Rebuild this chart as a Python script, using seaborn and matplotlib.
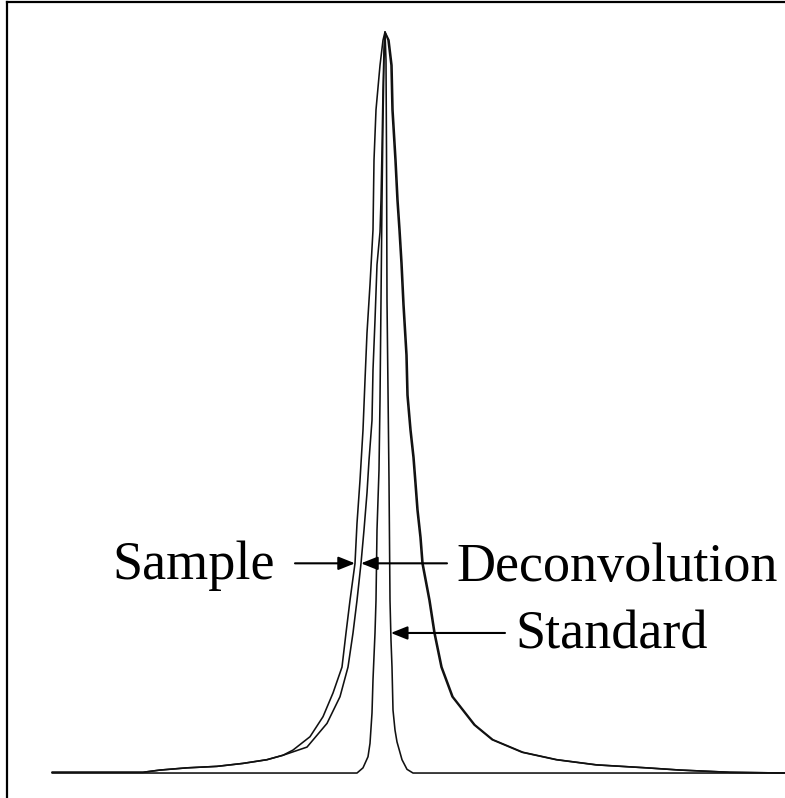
import numpy as np
import pandas as pd
import seaborn as sns
import matplotlib
matplotlib.use("Agg")
import matplotlib.pyplot as plt

# Normalised line profiles (energy offset from peak centre, relative intensity)
sample_x = [-3.33, -2.42, -2.25, -1.98, -1.68, -1.42, -1.18, -1.02, -0.92, -0.75,
            -0.62, -0.52, -0.43, -0.39, -0.35, -0.30, -0.28, -0.25, -0.22, -0.20,
            -0.18, -0.15, -0.12, -0.11, -0.09, -0.05, -0.02, 0.00]
sample_y = [0.001, 0.001, 0.004, 0.007, 0.009, 0.013, 0.018, 0.024, 0.031, 0.049,
            0.076, 0.108, 0.143, 0.189, 0.233, 0.283, 0.337, 0.395, 0.463, 0.530,
            0.594, 0.659, 0.733, 0.827, 0.895, 0.955, 0.989, 1.000]

decon_x = [-3.33, -2.42, -2.25, -1.98, -1.68, -1.42, -1.18, -1.02, -0.78, -0.58,
           -0.45, -0.37, -0.32, -0.28, -0.24, -0.21, -0.18, -0.16, -0.13, -0.12,
           -0.10, -0.08, -0.05, -0.04, -0.03, -0.02, -0.01, 0.00]
decon_y = [0.001, 0.001, 0.004, 0.007, 0.009, 0.013, 0.018, 0.024, 0.035, 0.067,
           0.103, 0.143, 0.189, 0.233, 0.283, 0.328, 0.378, 0.422, 0.476, 0.544,
           0.611, 0.686, 0.730, 0.773, 0.841, 0.922, 0.976, 1.000]

# High-energy side of the sample profile
tail_x = [0.04, 0.07, 0.08, 0.11, 0.13, 0.15, 0.17, 0.19, 0.22, 0.23, 0.26, 0.29,
          0.31, 0.33, 0.36, 0.38, 0.45, 0.50, 0.57, 0.68, 0.90, 1.08, 1.38, 1.72,
          2.12, 2.62, 2.95, 3.45, 4.00]
tail_y = [0.989, 0.955, 0.895, 0.827, 0.773, 0.733, 0.688, 0.632, 0.564, 0.510,
          0.463, 0.426, 0.391, 0.355, 0.318, 0.283, 0.233, 0.189, 0.143, 0.103,
          0.065, 0.045, 0.028, 0.018, 0.011, 0.007, 0.004, 0.001, 0.000]

# High-energy side of the deconvolved profile (runs just inside the sample)
decon_tail_x = [0.03, 0.06, 0.07, 0.10, 0.12, 0.14, 0.16, 0.18, 0.21, 0.22, 0.25,
                0.28, 0.30, 0.32, 0.35, 0.37, 0.44, 0.49, 0.56, 0.67, 0.89, 1.07,
                1.37, 1.71, 2.11, 2.61, 2.95, 3.45, 4.00]
decon_tail_y = [0.989, 0.955, 0.895, 0.827, 0.773, 0.733, 0.688, 0.632, 0.564,
                0.510, 0.463, 0.426, 0.391, 0.355, 0.318, 0.283, 0.233, 0.189,
                0.143, 0.103, 0.065, 0.045, 0.028, 0.018, 0.011, 0.007, 0.004,
                0.001, 0.000]

standard_x = [-3.33, -0.28, -0.22, -0.17, -0.15, -0.13, -0.12, -0.10, -0.09, -0.08,
              -0.06, -0.05, -0.04, -0.03, -0.02, -0.01, 0.00, 0.01, 0.015, 0.02,
              0.03, 0.04, 0.05, 0.06, 0.07, 0.08, 0.10, 0.12, 0.17, 0.22, 0.28, 4.00]
standard_y = [0.000, 0.000, 0.007, 0.022, 0.040, 0.081, 0.126, 0.189, 0.233, 0.328,
              0.409, 0.503, 0.638, 0.773, 0.881, 0.962, 1.000, 0.962, 0.841, 0.638,
              0.517, 0.395, 0.233, 0.179, 0.143, 0.085, 0.058, 0.042, 0.018, 0.005,
              0.000, 0.000]

labels = ["Sample", "Deconvolution", "Standard"]
label_levels = [0.283, 0.283, 0.189]

sns.set_style("white")
plt.rcParams["font.family"] = ["Liberation Serif", "DejaVu Serif"]

fig = plt.figure(figsize=(7.85, 7.98), dpi=100)
ax = fig.add_axes([7 / 785, 0.0, 778 / 785, 796 / 798])

profiles = {
    "Sample": (sample_x + tail_x, sample_y + tail_y),
    "Deconvolution": (decon_x + decon_tail_x, decon_y + decon_tail_y),
    "Standard": (standard_x, standard_y),
}
frames = [pd.DataFrame({"x": xs, "y": ys, "profile": name})
          for name, (xs, ys) in profiles.items()]
df = pd.concat(frames, ignore_index=True)

for name in ["Standard", "Deconvolution", "Sample"]:
    sub = df[df["profile"] == name]
    sns.lineplot(data=sub, x="x", y="y", ax=ax, color="#111111", lw=1.15,
                 estimator=None, sort=False, legend=False)

ax.set_xlim(-3.78, 4.0)
ax.set_ylim(-0.0337, 1.0405)
ax.set_xticks([])
ax.set_yticks([])
ax.set_xlabel("")
ax.set_ylabel("")
for side in ["right", "bottom"]:
    ax.spines[side].set_visible(False)
for side in ["left", "top"]:
    ax.spines[side].set_color("black")
    ax.spines[side].set_linewidth(1.6)

# Arrow tips sit on the curves at the label intensity level
tip_sample = np.interp(label_levels[0], sample_y, sample_x)
tip_decon = np.interp(label_levels[1], decon_y, decon_x)
sx = np.array(standard_x[16:-1])
sy = np.array(standard_y[16:-1])
tip_standard = np.interp(label_levels[2], sy[::-1], sx[::-1])

arrow = dict(arrowstyle="-|>,head_length=0.5,head_width=0.2", color="black",
             lw=1.5, shrinkA=0, shrinkB=0, mutation_scale=20)
ax.annotate("", xy=(tip_sample, label_levels[0]), xytext=(-0.90, label_levels[0]),
            arrowprops=arrow)
ax.annotate("", xy=(tip_decon, label_levels[1]), xytext=(0.62, label_levels[1]),
            arrowprops=arrow)
ax.annotate("", xy=(tip_standard, label_levels[2]), xytext=(1.20, label_levels[2]),
            arrowprops=arrow)

fs = 39
ax.text(-1.10, 0.262, labels[0], ha="right", va="baseline", fontsize=fs, color="black")
ax.text(0.71, 0.259, labels[1], ha="left", va="baseline", fontsize=fs, color="black")
ax.text(1.30, 0.168, labels[2], ha="left", va="baseline", fontsize=fs, color="black")

fig.savefig("out.png", dpi=100, facecolor="white")
